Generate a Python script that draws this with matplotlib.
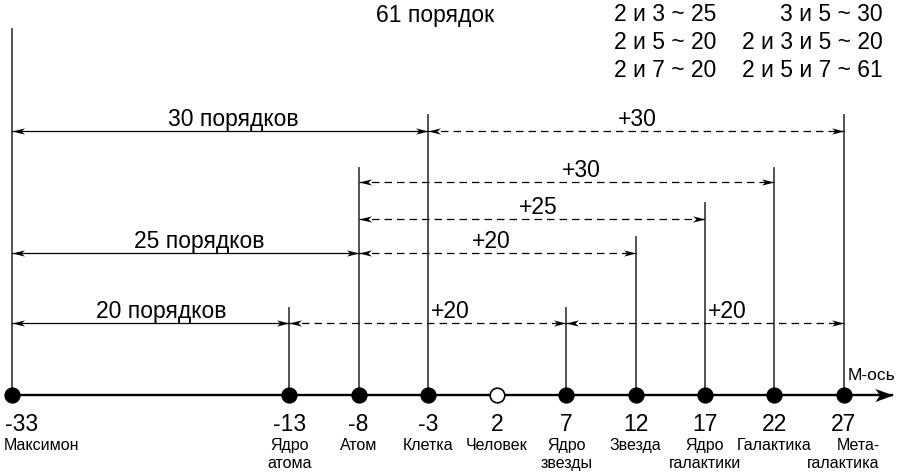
import matplotlib
matplotlib.use("Agg")
import matplotlib.pyplot as plt
from matplotlib.path import Path

plt.rcParams['font.family'] = ['Liberation Sans', 'DejaVu Sans']

# orders of magnitude along the M-axis
M_VALUES = [-33, -13, -8, -3, 2, 7, 12, 17, 22, 27]
M_NAMES = ["Максимон", "Ядро\nатома", "Атом", "Клетка", "Человек",
           "Ядро\nзвезды", "Звезда", "Ядро\nгалактики", "Галактика", "Мета-\nгалактика"]
HUMAN = 2

# spans: start, end, label
SOLID_SPANS = [(-33, -3, "30 порядков"), (-33, -8, "25 порядков"), (-33, -13, "20 порядков")]
DASHED_SPANS = [(-3, 27, "+30"), (-8, 22, "+30"), (-8, 17, "+25"), (-8, 12, "+20"),
                (-13, 7, "+20"), (7, 27, "+20")]

TOP_TITLE = "61 порядок"
COMBOS_LEFT = ["2 и 3 ~ 25", "2 и 5 ~ 20", "2 и 7 ~ 20"]
COMBOS_RIGHT = ["3 и 5 ~ 30", "2 и 3 и 5 ~ 20", "2 и 5 и 7 ~ 61"]

# layout (y in pixels from top)
AXIS_Y = 395
TOPS = {-33: 29, -3: 115, 27: 115, -8: 168, 22: 168, 17: 203, 12: 237, -13: 308, 7: 308}
SOLID_Y = [131, 253, 323]
SOLID_TX = [-17.0, -19.5, -22.2]
DASHED_Y = [131, 182, 219, 253, 323, 323]
DASHED_TX = [12.1, 8.1, 5.0, 1.6, -1.4, 18.6]

PX = 13.86
X0 = -33 - 12 / PX

fig = plt.figure(figsize=(9.01, 4.76), dpi=100)
ax = fig.add_axes([0, 0, 1, 1])
ax.set_xlim(X0, X0 + 901 / PX)
ax.set_ylim(476, 0)
ax.axis('off')

CODES = [Path.MOVETO, Path.LINETO, Path.LINETO, Path.LINETO, Path.CLOSEPOLY]
head_r = Path([(0, 0), (-1, 0.25), (-0.72, 0), (-1, -0.25), (0, 0)], CODES)
head_l = Path([(0, 0), (1, 0.25), (0.72, 0), (1, -0.25), (0, 0)], CODES)
axis_head = Path([(0, 0), (-1, 0.36), (-0.75, 0), (-1, -0.36), (0, 0)], CODES)

# vertical lines
for v, top in TOPS.items():
    ax.plot([v, v], [top, AXIS_Y], color='#444444', lw=1.3, zorder=1)


def span(a, b, y, dashed):
    if dashed:
        ax.plot([a, b], [y, y], color='black', lw=0.9, dashes=(6, 4), zorder=2)
    else:
        ax.plot([a, b], [y, y], color='black', lw=0.9, zorder=2)
    ax.plot([b], [y], marker=head_r, ms=18, color='black', mew=0, zorder=3)
    ax.plot([a], [y], marker=head_l, ms=18, color='black', mew=0, zorder=3)


for (a, b, lab), y, tx in zip(SOLID_SPANS, SOLID_Y, SOLID_TX):
    span(a, b, y, False)
    ax.text(tx, y - 5, lab, ha='center', va='baseline', fontsize=16.5)

for (a, b, lab), y, tx in zip(DASHED_SPANS, DASHED_Y, DASHED_TX):
    span(a, b, y, True)
    ax.text(tx, y - 5, lab, ha='center', va='baseline', fontsize=16.5)

# M-axis
ax.plot([M_VALUES[0], 30.5], [AXIS_Y, AXIS_Y], color='black', lw=1.7, zorder=2)
ax.plot([30.6], [AXIS_Y], marker=axis_head, ms=26, color='black', mew=0, zorder=3)
ax.text(27.3, 380, "М-ось", ha='left', va='baseline', fontsize=12.5)

for v, name in zip(M_VALUES, M_NAMES):
    face = 'white' if v == HUMAN else 'black'
    ax.plot([v], [AXIS_Y], marker='o', ms=10.5, mfc=face, mec='black', mew=1.2, zorder=4)
    if v == M_VALUES[0]:
        ax.text(v - 0.5, 431, f"{v}", ha='left', va='baseline', fontsize=16.5)
        ax.text(v - 0.6, 450, name, ha='left', va='baseline', fontsize=11.5)
        continue
    ax.text(v, 431, f"{v}", ha='center', va='baseline', fontsize=16.5)
    align = 'right' if name.split("\n")[0].endswith("-") else 'center'
    ax.text(v, 438, name, ha='center', va='top', fontsize=11.5,
            multialignment=align, linespacing=1.25)

# top annotations
ax.text(-2.5, 22, TOP_TITLE, ha='center', va='baseline', fontsize=16.5)
for i, (l, r) in enumerate(zip(COMBOS_LEFT, COMBOS_RIGHT)):
    ax.text(10.4, 21 + 28 * i, l, ha='left', va='baseline', fontsize=16.5)
    ax.text(29.8, 21 + 28 * i, r, ha='right', va='baseline', fontsize=16.5)

fig.savefig("out.png", dpi=100)
